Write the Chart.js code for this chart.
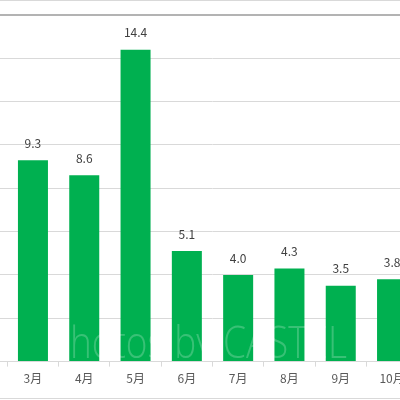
<!DOCTYPE html>
<html>
<head>
<meta charset="utf-8">
<script src="https://cdn.jsdelivr.net/npm/chart.js@4"></script>
<style>
    html, body { margin: 0; padding: 0; background: #fff; }
    #wrap {
        position: relative;
        width: 400px;
        height: 400px;
        overflow: hidden;
    }
    #wrap .edge { position: absolute; left: 0; width: 400px; height: 1px; background: #d9d9d9; }
    #box {
        position: absolute;
        left: -44px;
        top: 0;
        width: 513px;
        height: 400px;
    }
</style>
</head>
<body>
<div id="wrap">
    <div id="box"><canvas id="myChart"></canvas></div>
    <div class="edge" style="top:0"></div>
    <div class="edge" style="top:398px"></div>
</div>
<script>
// months on the axis (2月 and 11月 sit outside the cropped view)
const months = ['2月', '3月', '4月', '5月', '6月', '7月', '8月', '9月', '10月', '11月'];
const values = [null, 9.3, 8.6, 14.4, 5.1, 4.0, 4.3, 3.5, 3.8, null];
const yTicks = [0, 2, 4, 6, 8, 10, 12, 14, 16];

const barColor = '#00B050';
const gridColor = '#d9d9d9';

// draws the value over each bar
const valueLabels = {
    id: 'valueLabels',
    afterDatasetsDraw(chart) {
        const ctx = chart.ctx;
        const meta = chart.getDatasetMeta(0);
        ctx.save();
        ctx.font = '12px "Noto Sans CJK JP", "Noto Sans", sans-serif';
        ctx.fillStyle = '#404040';
        ctx.textAlign = 'center';
        ctx.textBaseline = 'middle';
        meta.data.forEach((bar, i) => {
            if (values[i] === null) return;
            ctx.fillText(values[i].toFixed(1), bar.x, bar.y - 17);
        });
        ctx.restore();
    }
};

// faint watermark, only shows on the green bars
const watermark = {
    id: 'watermark',
    afterDatasetsDraw(chart) {
        const ctx = chart.ctx;
        const area = chart.chartArea;
        ctx.save();
        ctx.beginPath();
        ctx.rect(area.left, area.top, area.right - area.left, area.bottom - area.top);
        ctx.clip();
        ctx.font = '300 44px "Open Sans", sans-serif';
        ctx.fillStyle = 'rgba(255, 255, 255, 0.22)';
        ctx.textBaseline = 'alphabetic';
        const full = 'Photos by CASTEL';
        const pw = ctx.measureText('P').width;
        const w = ctx.measureText(full).width;
        const sx = 277 / (w - pw);
        ctx.translate(44 + 70 - pw * sx, 358);
        ctx.scale(sx, 1);
        ctx.fillText(full, 0, 0);
        ctx.restore();
    }
};

new Chart(document.getElementById('myChart'), {
    type: 'bar',
    data: {
        labels: months,
        datasets: [{
            data: values,
            backgroundColor: barColor,
            borderWidth: 0,
            categoryPercentage: 1,
            barPercentage: 0.585
        }]
    },
    options: {
        responsive: true,
        maintainAspectRatio: false,
        animation: false,
        layout: {
            padding: { top: 15, bottom: 9, left: 0, right: 0 }
        },
        plugins: {
            legend: { display: false },
            tooltip: { enabled: false }
        },
        scales: {
            x: {
                grid: {
                    display: true,
                    drawOnChartArea: false,
                    drawTicks: true,
                    tickLength: 5,
                    color: gridColor,
                    offset: true
                },
                border: { color: gridColor },
                ticks: {
                    color: '#595959',
                    font: { size: 12, family: '"Noto Sans CJK JP", "Noto Sans", sans-serif' },
                    padding: 5,
                    maxRotation: 0,
                    autoSkip: false
                }
            },
            y: {
                min: yTicks[0],
                max: yTicks[yTicks.length - 1],
                afterBuildTicks: (axis) => {
                    axis.ticks = yTicks.map(v => ({ value: v }));
                },
                ticks: { display: false },
                border: { display: false },
                grid: {
                    drawTicks: false,
                    color: (c) => c.tick && c.tick.value === 16 ? '#b3b3b3' : gridColor,
                    lineWidth: (c) => c.tick && c.tick.value === 16 ? 2 : 1
                }
            }
        }
    },
    plugins: [valueLabels, watermark]
});
</script>
</body>
</html>
